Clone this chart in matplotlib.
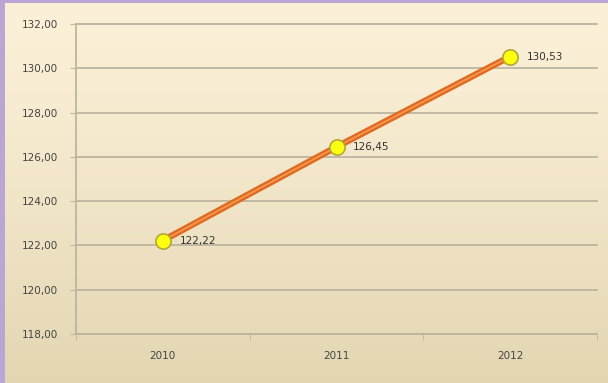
import numpy as np
import matplotlib.pyplot as plt
import matplotlib.patches as patches

years = ["2010", "2011", "2012"]
values = [122.22, 126.45, 130.53]
labels = ["122,22", "126,45", "130,53"]
y_ticks = [118, 120, 122, 124, 126, 128, 130, 132]

fig = plt.figure(figsize=(6.08, 3.83), dpi=100)

# background gradient, cream at top to tan at bottom
bg = fig.add_axes([0, 0, 1, 1], zorder=0)
grad = np.linspace(0, 1, 256).reshape(-1, 1)
top_c = np.array([252, 240, 216]) / 255
bot_c = np.array([227, 214, 178]) / 255
img = top_c + (bot_c - top_c) * grad[..., None] ** 1.3
bg.imshow(img, aspect="auto", extent=[0, 1, 0, 1], origin="upper")
bg.add_patch(patches.Rectangle((0, 0), 5 / 608, 1, color="#BBA5D4", lw=0))
bg.add_patch(patches.Rectangle((0, 1 - 3 / 383), 1, 3 / 383, color="#BBA5D4", lw=0))
bg.set_xlim(0, 1)
bg.set_ylim(0, 1)
bg.axis("off")

ax = fig.add_axes([76 / 608, 1 - 334 / 383, (597 - 76) / 608, (334 - 24) / 383], zorder=1)
ax.patch.set_alpha(0)

x = np.arange(len(years))
ax.plot(x, values, color="#E06A20", lw=4.6, solid_capstyle="round", zorder=3)
ax.plot(x, values, color="#F59A55", lw=1.2, zorder=4)
ax.plot(x, values, ls="none", marker="o", ms=11, mfc="#FFFF10", mec="#B0A838", mew=1.2, zorder=5)
for xi, v, t in zip(x, values, labels):
    ax.annotate(t, (xi, v), xytext=(12, 0), textcoords="offset points",
                va="center", ha="left", fontsize=7.5, color="#333333", zorder=6)

ax.set_xlim(-0.5, len(years) - 0.5)
ax.set_ylim(118, 132)
ax.set_yticks(y_ticks)
ax.set_yticklabels([f"{t},00" for t in y_ticks])
ax.set_xticks(x)
ax.set_xticklabels(years)
ax.set_xticks(np.arange(len(years) + 1) - 0.5, minor=True)
ax.yaxis.grid(True, color="#BDB5A0", lw=1.3)
for gl in ax.get_ygridlines():
    gl.set_clip_on(False)
ax.set_axisbelow(True)
for s in ["top", "right"]:
    ax.spines[s].set_visible(False)
ax.spines["left"].set_color("#BDB5A0")
ax.spines["bottom"].set_color("#BDB5A0")
ax.spines["left"].set_linewidth(1.3)
ax.spines["bottom"].set_linewidth(1.3)
ax.tick_params(axis="y", length=4, color="#BDB5A0", labelsize=7.5, labelcolor="#444444", pad=9)
ax.tick_params(axis="x", which="major", length=0, labelsize=7.5, labelcolor="#444444", pad=12)
ax.tick_params(axis="x", which="minor", length=4, color="#BDB5A0")

plt.savefig("out.png", dpi=100)
